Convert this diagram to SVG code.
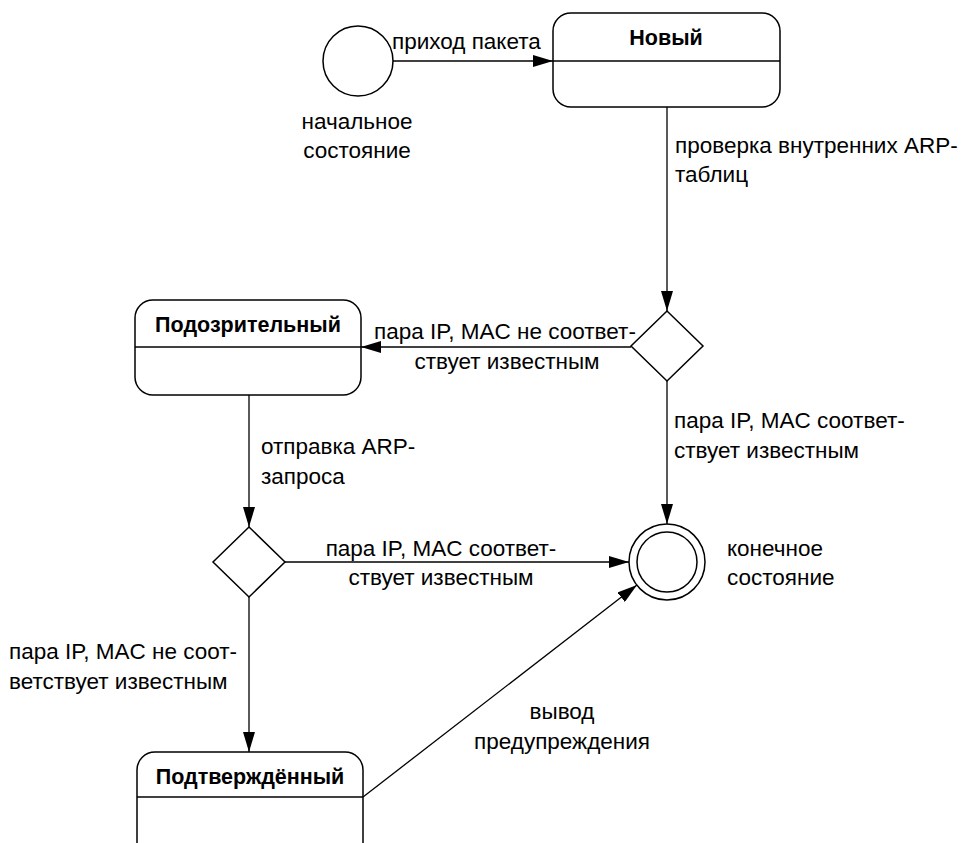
<svg xmlns="http://www.w3.org/2000/svg" width="962" height="843" viewBox="0 0 962 843">
<defs>
<marker id="arr" markerWidth="20" markerHeight="12" refX="20" refY="6" orient="auto" markerUnits="userSpaceOnUse">
<path d="M0,0 L20,6 L0,12 Z" fill="#000"/>
</marker>
<style>
.s{fill:#fff;stroke:#000;stroke-width:1.5}
.l{fill:none;stroke:#000;stroke-width:1.5}
.c{stroke:#000;stroke-width:1.3;fill:none;marker-end:url(#arr)}
text{font-family:"Liberation Sans",Arial,sans-serif;font-size:22.5px;fill:#000}
.b{font-weight:bold;font-size:21.5px}
.m{text-anchor:middle}
</style>
</defs>
<rect width="962" height="843" fill="#fff"/>
<g id="connectors">
<line class="c" x1="393" y1="61" x2="553" y2="61"/>
<line class="c" x1="667" y1="107" x2="667" y2="311"/>
<line class="c" x1="631" y1="347" x2="361" y2="347"/>
<line class="c" x1="667" y1="381" x2="667" y2="524"/>
<line class="c" x1="249" y1="395" x2="249" y2="527"/>
<line class="c" x1="285" y1="562" x2="629" y2="562"/>
<line class="c" x1="249" y1="597" x2="249" y2="752"/>
<line class="c" x1="363" y1="797" x2="637" y2="585"/>
<text x="392" y="49">приход пакета</text>
<text x="675" y="153">проверка внутренних ARP-</text>
<text x="675" y="182">таблиц</text>
<text x="374" y="339">пара IP, MAC не соответ-</text>
<text x="507" y="369" class="m">ствует известным</text>
<text x="674" y="428">пара IP, MAC соответ-</text>
<text x="674" y="458">ствует известным</text>
<text x="261" y="454">отправка ARP-</text>
<text x="261" y="484">запроса</text>
<text x="441" y="556" class="m">пара IP, MAC соответ-</text>
<text x="441" y="585" class="m">ствует известным</text>
<text x="9" y="659">пара IP, MAC не соот-</text>
<text x="9" y="689">ветствует известным</text>
<text x="562" y="719" class="m">вывод</text>
<text x="562" y="749" class="m">предупреждения</text>
</g>
<g id="start">
<circle class="s" cx="358" cy="61" r="35"/>
<text x="357" y="129" class="m">начальное</text>
<text x="357" y="158" class="m">состояние</text>
</g>
<g id="new">
<rect class="s" x="553" y="13" width="227" height="94" rx="18"/>
<line class="l" x1="553" y1="61" x2="780" y2="61"/>
<text x="666" y="45" class="m b">Новый</text>
</g>
<g id="decision1">
<polygon class="s" points="667,311 703,346 667,381 631,346"/>
</g>
<g id="suspicious">
<rect class="s" x="135" y="300" width="226" height="95" rx="18"/>
<line class="l" x1="135" y1="347" x2="361" y2="347"/>
<text x="248" y="332" class="m b">Подозрительный</text>
</g>
<g id="decision2">
<polygon class="s" points="249,527 285,562 249,597 213,562"/>
</g>
<g id="final">
<circle class="s" cx="667" cy="562" r="38"/>
<circle class="s" cx="667" cy="562" r="30"/>
<text x="727" y="556">конечное</text>
<text x="727" y="585">состояние</text>
</g>
<g id="confirmed">
<rect class="s" x="137" y="752" width="226" height="110" rx="18"/>
<line class="l" x1="137" y1="797" x2="363" y2="797"/>
<text x="250" y="784" class="m b">Подтверждённый</text>
</g>
</svg>
